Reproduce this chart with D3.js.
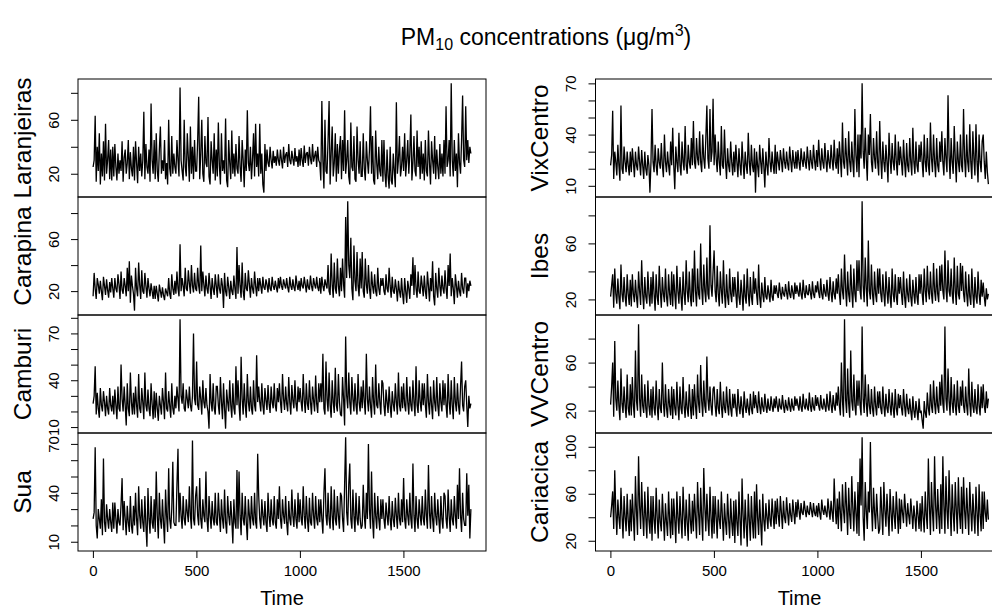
<!DOCTYPE html>
<html><head><meta charset="utf-8">
<script src="https://cdn.jsdelivr.net/npm/d3@7"></script>
<style>
body{margin:0;background:#fff}
svg{display:block}
text{font-family:"Liberation Sans",Arial,Helvetica,sans-serif;fill:#000}
</style></head><body>
<svg id="chart" width="992" height="615"></svg>
<script>
// ---------------- DATA (~5-day samples) ----------------
const nDays = 1826;
const stations = ["Laranjeiras","Carapina","Camburi","Sua","VixCentro","Ibes","VVCentro","Cariacica"];

const laranjeiras = [
25,30,63,14,40,22,50,12,35,18,44,15,57,20,30,45,16,38,15,40,
18,42,25,15,35,20,30,22,44,14,32,38,20,28,45,16,36,24,18,40,
15,44,28,13,40,22,35,18,30,66,16,42,25,20,38,14,72,30,20,45,
16,50,22,14,38,55,20,30,22,45,16,28,12,60,24,18,48,20,35,25,
20,45,30,18,84,30,22,15,60,25,18,50,32,14,55,20,40,16,45,22,
22,44,77,16,35,60,20,14,48,28,25,62,18,12,44,30,20,50,15,38,
18,58,26,12,50,22,30,20,61,15,10,45,28,16,52,20,35,18,42,24,
20,48,25,14,45,30,10,38,22,67,28,22,40,16,30,50,18,57,25,35,
18,57,20,35,12,6,42,22,38,28,25,40,30,24,37,28,33,26,38,30,
26,38,30,24,40,28,34,36,25,42,30,27,37,31,26,39,29,33,25,38,
26,39,30,25,41,28,35,36,26,40,31,27,42,29,33,37,25,40,30,28,
15,74,30,9,60,22,20,45,74,12,35,55,18,28,50,14,42,20,38,48,
16,45,22,67,20,30,45,18,12,58,25,22,48,16,14,55,30,20,44,18,
18,50,24,15,44,30,20,38,70,20,48,15,12,52,28,16,40,22,18,45,
14,45,20,10,38,18,9,40,15,12,35,22,10,73,20,30,48,18,25,40,
22,50,18,30,45,20,35,64,15,28,48,22,18,52,25,40,16,44,20,35,
15,45,22,18,52,28,12,44,30,20,48,16,38,25,16,42,20,35,18,45,
20,70,25,30,45,18,87,30,18,45,22,35,10,50,28,20,45,78,30,25,
70,30,45,28,40,35];

const carapina = [
16,34,22,14,30,25,18,28,20,13,31,24,17,29,21,15,27,19,30,22,
15,30,22,19,33,25,14,35,21,18,30,24,16,38,20,43,11,32,24,18,
5,38,22,16,42,25,14,36,20,18,34,24,15,30,22,16,26,20,14,24,
14,24,18,12,25,20,15,23,17,13,22,19,16,30,18,14,33,22,17,28,
18,35,22,16,56,20,30,24,16,38,22,20,36,26,18,40,24,19,34,22,
20,38,24,18,55,20,35,25,16,32,22,18,34,24,14,30,22,17,33,24,
15,33,22,18,30,24,7,34,20,16,31,23,14,28,20,17,32,22,14,54,
18,40,24,15,42,20,13,34,22,20,36,25,15,30,22,18,35,24,16,30,
20,30,24,18,31,23,21,29,25,19,30,22,20,31,24,21,28,23,19,30,
22,31,24,21,29,25,22,30,23,19,31,24,21,29,23,20,32,25,21,28,
20,30,24,22,31,25,19,29,23,21,32,24,20,30,25,22,31,23,20,30,
18,31,24,20,29,25,22,40,20,17,49,25,15,42,22,18,45,24,16,38,
20,45,25,15,77,30,89,40,30,61,22,13,55,28,20,50,24,16,45,22,
50,20,15,45,25,18,40,22,14,35,24,18,33,20,16,38,22,17,30,24,
30,20,17,33,22,19,38,24,15,31,20,18,29,22,12,28,20,15,30,18,
10,30,20,11,28,22,14,33,24,46,17,40,22,15,35,20,18,32,24,16,
32,20,14,35,24,12,30,20,43,16,9,34,22,15,38,24,16,32,22,18,
36,22,14,40,24,49,16,30,22,10,33,24,15,28,20,16,34,22,18,30,
30,15,26,20,28,24];

const camburi = [
25,30,49,18,32,22,16,35,24,20,33,26,17,30,22,18,35,24,20,30,
18,34,24,15,36,22,20,50,28,20,36,24,11,38,22,17,45,26,18,32,
18,36,24,16,44,22,19,35,26,15,45,24,20,34,22,17,38,25,15,33,
16,32,22,14,30,24,18,35,26,15,45,22,20,33,24,16,38,22,18,30,
22,36,28,20,79,30,25,38,22,20,34,28,22,36,24,20,30,70,28,24,
52,24,21,36,28,18,40,26,22,35,24,20,9,44,26,20,38,22,18,36,
36,24,18,42,26,15,38,22,9,34,26,20,40,24,16,38,22,18,49,24,
40,24,14,55,28,18,38,24,16,44,26,20,36,22,18,40,24,20,56,26,
36,26,20,38,24,18,35,27,21,37,25,19,36,26,22,38,24,20,35,26,
38,26,19,44,28,21,36,25,20,42,26,18,37,27,22,40,25,20,36,26,
35,26,20,44,27,19,38,25,21,40,26,18,36,27,20,43,25,19,38,26,
38,26,57,22,18,52,28,20,45,24,16,40,26,19,48,24,20,44,26,18,
17,42,28,11,68,30,22,45,26,18,42,28,20,38,24,18,44,26,20,36,
22,40,26,18,57,28,20,36,24,16,42,26,18,50,24,22,38,26,18,40,
38,24,17,34,26,19,36,24,16,33,25,20,38,26,18,45,24,20,36,22,
38,24,20,42,26,18,36,24,20,40,26,17,49,24,19,40,26,20,38,24,
38,24,16,44,26,18,36,24,15,40,26,20,42,24,17,38,26,20,40,24,
38,24,16,44,26,18,40,24,15,42,26,20,38,24,18,36,52,24,20,36,
40,24,10,30,22,25];

const sua = [
24,28,68,20,12,30,24,18,36,14,61,22,16,33,24,18,30,22,16,34,
18,34,24,15,30,22,20,33,49,17,35,24,14,32,22,16,38,20,15,32,
20,40,24,14,44,26,18,36,22,16,38,20,7,43,24,15,38,22,18,36,
16,53,26,12,40,24,18,36,22,9,42,26,16,55,24,18,30,59,22,20,
20,45,67,22,40,26,18,38,24,20,36,28,22,44,26,18,72,24,20,38,
44,26,20,49,24,18,36,26,22,53,24,16,38,26,18,35,24,20,40,22,
20,40,26,16,36,24,18,42,22,15,38,26,20,35,24,9,36,22,18,54,
18,53,26,14,40,24,20,38,22,11,36,26,18,38,24,20,40,22,18,64,
38,24,18,36,26,20,35,22,16,40,26,19,36,24,20,38,22,18,36,24,
44,24,18,36,26,21,38,22,14,35,24,20,42,26,19,36,24,18,40,22,
36,24,20,44,26,18,38,24,16,37,22,20,40,26,18,38,24,20,36,22,
36,24,15,40,55,26,20,40,24,18,44,26,17,42,24,20,38,26,18,40,
38,24,16,45,74,28,20,45,58,24,18,42,26,16,40,24,20,38,24,18,
20,45,26,18,40,24,70,30,18,53,24,12,40,26,18,38,24,17,36,24,
36,24,18,34,26,20,38,24,17,35,24,19,37,26,18,40,24,20,36,22,
49,24,18,36,26,20,40,24,18,58,26,16,38,24,18,36,26,20,38,24,
20,42,26,18,57,28,18,38,24,16,40,26,20,36,24,15,38,24,18,40,
38,24,18,42,26,16,36,24,20,38,26,18,45,24,55,26,16,40,24,20,
20,52,26,45,12,30];

const vixCentro = [
22,28,54,14,30,24,16,34,22,13,57,20,17,33,24,18,30,22,16,30,
18,32,24,15,30,22,19,33,24,16,31,22,14,30,20,16,28,22,6,24,
55,24,18,34,22,16,32,24,20,35,22,15,40,24,18,30,22,16,36,22,
44,22,8,33,24,18,41,22,16,36,24,19,45,22,17,34,24,20,38,22,
48,24,20,38,26,22,42,24,18,40,26,20,38,57,26,20,55,24,30,61,
22,40,26,18,36,24,16,45,22,20,43,24,14,32,22,18,36,24,16,30,
18,34,24,15,32,22,16,36,24,14,30,22,17,41,24,16,34,22,18,32,
6,30,22,15,34,24,17,32,22,9,30,22,16,38,24,18,30,22,17,34,
17,30,24,19,31,25,18,32,24,20,30,23,19,33,25,18,31,24,20,30,
20,31,24,19,32,25,21,30,24,20,33,25,19,31,24,20,34,25,19,31,
21,37,25,19,32,24,20,35,25,18,31,24,20,34,25,19,37,24,20,32,
17,36,26,15,47,24,20,38,26,16,42,24,18,36,24,15,55,28,18,40,
15,40,26,70,30,20,44,26,13,40,28,52,24,18,38,26,20,42,24,16,
48,26,14,36,24,18,34,24,12,41,26,17,35,24,19,40,24,16,36,22,
33,24,16,37,24,15,35,22,18,38,24,16,44,24,17,36,22,18,34,24,
36,24,15,40,24,18,38,22,16,47,26,18,40,24,15,38,22,18,36,24,
42,24,16,38,26,18,63,28,14,38,24,17,45,26,12,36,24,18,40,22,
18,55,26,15,40,24,18,46,24,14,42,26,16,46,24,12,40,24,18,36,
40,24,14,30,18,11];

const ibes = [
22,30,38,14,42,24,17,35,22,13,45,24,18,36,22,15,38,24,16,34,
15,38,24,18,34,22,14,40,26,16,48,24,13,36,22,17,40,24,15,36,
17,40,24,12,38,22,16,44,26,14,36,24,18,42,22,15,38,24,16,40,
15,38,24,13,44,26,17,36,22,12,40,24,16,48,26,18,40,22,15,42,
18,55,26,15,42,24,20,60,28,16,45,26,18,50,24,20,73,30,22,40,
55,26,18,44,24,15,40,26,17,48,24,14,38,22,16,42,24,18,36,22,
36,24,14,40,22,16,34,24,12,38,22,17,42,24,15,36,22,16,40,24,
35,24,16,45,22,14,32,24,18,36,22,20,30,24,18,34,22,19,30,24,
30,24,21,32,25,20,29,24,22,31,25,20,33,24,21,30,25,20,32,24,
30,25,22,32,24,20,34,25,21,30,24,23,31,25,20,33,24,21,30,25,
33,25,21,35,24,20,31,25,22,34,24,19,36,25,18,33,24,20,35,24,
38,24,16,42,26,20,52,28,15,40,24,18,45,26,14,42,24,18,48,26,
48,26,20,90,30,18,50,28,15,62,26,20,45,24,16,40,24,18,42,24,
42,24,18,38,24,15,40,26,17,36,22,14,42,24,18,38,22,16,36,24,
36,24,16,40,22,14,35,24,18,38,22,15,34,24,17,36,22,16,38,24,
38,24,16,42,26,18,44,26,20,40,24,17,46,26,19,42,24,18,44,26,
45,26,20,55,28,18,48,26,22,42,24,17,50,26,16,44,24,20,46,26,
44,24,18,40,24,15,38,22,16,42,24,14,36,22,17,40,24,16,34,22,
32,22,15,28,20,24];

const vvCentro = [
25,40,60,15,78,30,20,45,24,12,55,26,18,40,24,14,50,22,16,42,
16,48,24,14,70,28,20,92,30,15,50,24,18,42,22,14,45,24,16,38,
14,40,22,16,45,24,12,38,22,18,60,26,15,42,22,14,38,24,16,40,
13,38,22,16,44,24,12,40,22,17,48,24,14,36,22,15,42,24,13,38,
16,42,24,13,50,26,18,58,28,15,45,24,18,65,30,20,40,24,16,38,
40,24,15,38,22,17,44,24,14,36,22,18,40,24,16,38,22,15,34,22,
34,22,15,38,24,17,32,22,14,36,24,18,30,22,16,34,22,17,36,22,
33,24,18,36,24,17,31,23,19,34,24,18,30,22,20,32,24,19,30,22,
32,24,19,30,23,21,33,24,18,29,23,20,31,24,19,30,23,20,32,24,
30,24,20,32,23,19,34,24,21,30,23,20,35,24,19,31,23,20,33,24,
31,24,20,33,23,21,30,24,19,34,24,20,36,25,18,33,24,20,35,24,
40,24,16,60,28,15,96,30,18,55,26,14,70,28,20,50,24,16,45,24,
45,24,16,90,30,18,50,26,15,42,24,17,38,22,15,40,24,16,36,22,
36,22,17,40,24,15,34,22,18,38,24,16,35,22,14,38,22,16,34,22,
33,22,16,38,24,15,34,22,17,30,20,12,32,20,14,28,20,12,30,18,
20,12,5,28,18,14,35,22,16,42,24,18,45,26,17,40,24,18,44,24,
50,26,18,90,30,20,55,28,16,48,26,18,42,24,16,45,24,18,40,24,
45,24,18,40,24,16,55,26,15,44,24,18,38,22,17,42,24,16,40,22,
42,24,18,36,22,30];

const cariacica = [
40,50,62,30,80,45,25,55,40,30,65,42,22,58,40,28,60,38,24,55,
28,60,40,20,75,45,25,92,50,30,70,42,24,62,40,22,66,38,26,58,
20,58,38,26,65,40,22,55,36,28,60,40,20,52,36,24,62,38,22,56,
25,56,38,18,62,40,26,58,38,22,66,42,24,55,36,20,60,38,26,54,
28,60,40,22,70,44,25,65,40,20,82,50,28,60,38,24,66,40,22,58,
26,58,40,22,55,38,30,62,40,20,52,36,25,60,38,22,56,36,24,54,
18,55,36,24,62,38,16,73,42,22,55,34,15,60,38,20,58,36,22,62,
22,68,40,25,55,36,16,60,38,28,52,40,30,55,38,32,56,42,30,54,
34,56,42,32,58,44,30,54,40,35,57,44,33,52,42,36,55,44,34,53,
40,55,46,38,52,44,42,54,46,40,50,44,42,53,46,40,52,44,41,50,
40,52,44,38,55,46,42,50,44,40,56,46,38,54,44,36,73,48,34,56,
30,62,44,28,68,46,35,70,48,25,65,42,30,75,48,28,62,44,26,70,
24,90,50,108,40,20,70,46,30,62,44,104,50,28,65,44,30,60,42,26,
30,66,44,25,70,46,32,60,42,24,64,44,28,58,42,30,62,44,26,56,
30,55,44,35,60,46,32,52,42,34,56,44,30,50,40,28,54,42,30,52,
28,58,40,27,62,42,30,90,50,25,70,44,28,92,50,30,64,42,26,68,
30,92,50,26,75,46,30,80,48,24,68,44,28,70,46,26,74,44,30,66,
26,74,46,30,65,44,25,70,46,28,60,42,26,66,44,24,68,42,28,62,
30,62,44,36,55,38];

const seriesValues = [laranjeiras,carapina,camburi,sua,vixCentro,ibes,vvCentro,cariacica];

// tick values and the labelled subset per panel
const yTickValues = [
  [20,40,60,80],[20,40,60,80],[10,20,30,40,50,60,70,80],[10,20,30,40,50,60,70],
  [10,20,30,40,50,60,70],[20,40,60,80],[20,40,60,80],[20,40,60,80,100]];
const yTickLabels = [
  [20,60],[20,60],[10,40,70],[10,40,70],
  [10,40,70],[20,60],[20,60],[20,60,100]];
const xTickValues = [0,500,1000,1500];
const xLabel = "Time";

// ---------------- LAYOUT ----------------
const svg = d3.select("#chart");
const colX = [[78,486],[595.5,1003.5]];
const rowY = [[79,197],[197,315],[315,433],[433,551]];
const FS_TICK = 15, FS_LAB = 24.5;

svg.append("defs").selectAll("clipPath").data(d3.range(8)).join("clipPath")
  .attr("id",i=>"clip"+i)
  .append("rect")
  .attr("x",i=>colX[Math.floor(i/4)][0]).attr("y",i=>rowY[i%4][0])
  .attr("width",i=>colX[Math.floor(i/4)][1]-colX[Math.floor(i/4)][0])
  .attr("height",i=>rowY[i%4][1]-rowY[i%4][0]);

// R-style 4% padded domains
function padded(ext){const s=ext[1]-ext[0];return [ext[0]-0.04*s, ext[1]+0.04*s];}
const xScales = colX.map(r=>d3.scaleLinear().domain(padded([1,nDays])).range(r));

stations.forEach((name,i)=>{
  const col = Math.floor(i/4), row = i%4;
  const vals = seriesValues[i];
  const times = vals.map((v,k)=>1 + k*(nDays-1)/(vals.length-1));
  const x = xScales[col];
  const y = d3.scaleLinear().domain(padded(d3.extent(vals))).range([rowY[row][1],rowY[row][0]]);
  const g = svg.append("g");

  const line = d3.line().x((d,k)=>x(times[k])).y(d=>y(d));
  g.append("path").datum(vals)
    .attr("d",line).attr("fill","none").attr("stroke","#000")
    .attr("stroke-width",1.3).attr("stroke-linejoin","miter").attr("stroke-miterlimit",2)
    .attr("clip-path","url(#clip"+i+")");

  const labelled = new Set(yTickLabels[i]);
  const ya = g.append("g").attr("transform",`translate(${colX[col][0]},0)`)
    .call(d3.axisLeft(y).tickValues(yTickValues[i]).tickSize(7).tickSizeOuter(0)
      .tickFormat(d=>labelled.has(d)?String(d):""));
  ya.select(".domain").remove();
  ya.selectAll(".tick line").attr("stroke","#000");
  ya.selectAll(".tick text")
    .attr("x",null).attr("dy",null)
    .attr("transform","translate(-19.5,0) rotate(-90)")
    .attr("text-anchor","middle")
    .style("font-size",FS_TICK+"px")
    .style("font-family","Liberation Sans, Arial, sans-serif");

  g.append("rect").attr("x",colX[col][0]).attr("y",rowY[row][0])
    .attr("width",colX[col][1]-colX[col][0]).attr("height",rowY[row][1]-rowY[row][0])
    .attr("fill","none").attr("stroke","#000").attr("stroke-width",1);

  const cy = (rowY[row][0]+rowY[row][1])/2;
  g.append("text").attr("transform",`translate(${colX[col][0]-56},${cy}) rotate(-90)`)
    .attr("text-anchor","middle").attr("dy","0.36em")
    .style("font-size",FS_LAB+"px").text(name);

  if(row===3){
    const xa = g.append("g").attr("transform",`translate(0,${rowY[row][1]})`)
      .call(d3.axisBottom(x).tickValues(xTickValues).tickSize(7).tickPadding(7)
        .tickSizeOuter(0).tickFormat(d3.format("d")));
    xa.select(".domain").remove();
    xa.selectAll(".tick line").attr("stroke","#000");
    xa.selectAll(".tick text").style("font-size",FS_TICK+"px")
      .style("font-family","Liberation Sans, Arial, sans-serif");
    g.append("text").attr("x",(colX[col][0]+colX[col][1])/2).attr("y",605)
      .attr("text-anchor","middle").style("font-size","20px").text(xLabel);
  }
});

// title
const t = svg.append("text").attr("x",546).attr("y",45).attr("text-anchor","middle")
  .style("font-size","23px");
t.append("tspan").text("PM");
t.append("tspan").attr("dy",5).style("font-size","16px").text("10");
t.append("tspan").attr("dy",-5).text(" concentrations (\u03bcg/m");
t.append("tspan").attr("dy",-9).style("font-size","16px").text("3");
t.append("tspan").attr("dy",9).text(")");
</script></body></html>
